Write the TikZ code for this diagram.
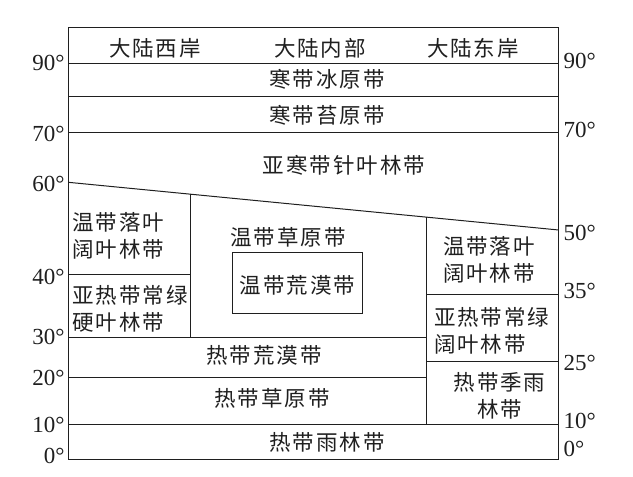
\documentclass[tikz,border=0pt]{standalone}
\usepackage{fontspec}
\setmainfont{Liberation Serif}
\newfontfamily\cjk[LetterSpace=9]{Noto Sans CJK SC}
\definecolor{ink}{gray}{0.12}
\begin{document}
\begin{tikzpicture}[x=1pt,y=-1pt,line width=1pt,draw=ink,
  lab/.style={font=\cjk\fontsize{21.5}{27}\selectfont,inner sep=0pt,text=ink},
  degl/.style={font=\fontsize{23}{24}\selectfont,inner sep=0pt,anchor=east,text=ink},
  degr/.style={font=\fontsize{23}{24}\selectfont,inner sep=0pt,anchor=west,text=ink}]
\useasboundingbox (0,0) rectangle (633,477);
% frame
\draw (68.3,27) rectangle (558.7,459.3);
\draw (68.3,63.3) -- (558.7,63.3);
\draw (68.3,96.7) -- (558.7,96.7);
\draw (68.3,132.3) -- (558.7,132.3);
\draw (68.3,182.3) -- (558.7,230);
% left column
\draw (190.7,194.2) -- (190.7,337);
\draw (68.3,274.3) -- (190.7,274.3);
% middle
\draw (68.3,337) -- (426.5,337);
\draw (68.3,377.3) -- (426.5,377.3);
\draw (68.3,424.3) -- (558.7,424.3);
\draw (232.3,252.7) rectangle (362,313);
% right column
\draw (426.5,217.1) -- (426.5,424.3);
\draw (426.5,294.7) -- (558.7,294.7);
\draw (426.5,361) -- (558.7,361);
% headers
\node[lab] (h1) at (155,48) {大陆西岸};
\node[lab] (h2) at (320,48) {大陆内部};
\node[lab] (h3) at (473,48) {大陆东岸};
% zones
\node[lab] (z1) at (327,79.5) {寒带冰原带};
\node[lab] (z2) at (327,115) {寒带苔原带};
\node[lab] (z3) at (344,165) {亚寒带针叶林带};
\node[lab,align=left,anchor=west] (z4) at (72,235.5) {温带落叶\\阔叶林带};
\node[lab,align=left,anchor=west] (z5) at (72,308.5) {亚热带常绿\\硬叶林带};
\node[lab] (z6) at (288,237) {温带草原带};
\node[lab] (z7) at (297.5,285) {温带荒漠带};
\node[lab,align=center] (z8) at (489,260) {温带落叶\\阔叶林带};
\node[lab,align=left,anchor=west] (z9) at (433.5,330.5) {亚热带常绿\\阔叶林带};
\node[lab,align=center] (z10) at (499.5,396) {热带季雨\\林带};
\node[lab] (z11) at (264,355.3) {热带荒漠带};
\node[lab] (z12) at (272,398.7) {热带草原带};
\node[lab] (z13) at (327,442) {热带雨林带};
% left degrees
\node[degl] (l90) at (65,62.5) {90°};
\node[degl] (l70) at (65,134) {70°};
\node[degl] (l60) at (65,184) {60°};
\node[degl] (l40) at (65,277) {40°};
\node[degl] (l30) at (65,337) {30°};
\node[degl] (l20) at (65,377.5) {20°};
\node[degl] (l10) at (65,424.5) {10°};
\node[degl] (l0) at (65,456) {0°};
% right degrees
\node[degr] (r90) at (563,60.8) {90°};
\node[degr] (r70) at (563,129.5) {70°};
\node[degr] (r50) at (563,233) {50°};
\node[degr] (r35) at (563,291) {35°};
\node[degr] (r25) at (563,363) {25°};
\node[degr] (r10) at (563,421) {10°};
\node[degr] (r0) at (563,449) {0°};
\end{tikzpicture}
\end{document}
